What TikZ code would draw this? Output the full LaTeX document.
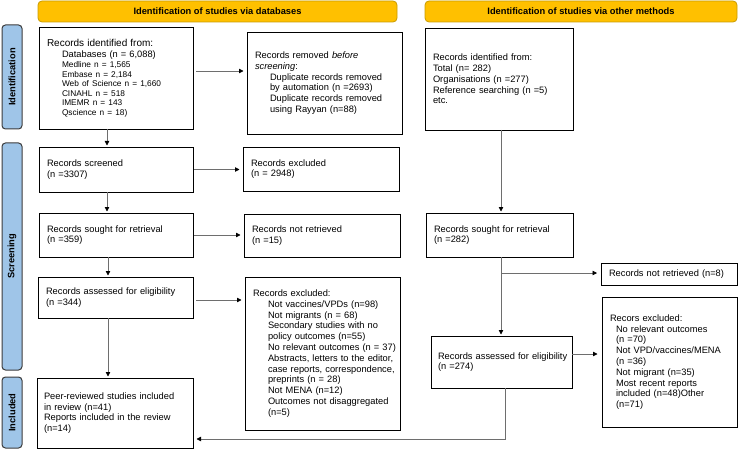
\documentclass[tikz,border=0pt]{standalone}
\usepackage{fontspec}
\setmainfont{Liberation Sans}
\usetikzlibrary{arrows.meta}
\hfuzz=100pt
\hbadness=10000
\definecolor{bannerfill}{HTML}{FFC000}
\definecolor{bannerdraw}{HTML}{C89B00}
\definecolor{sidefill}{HTML}{9FC5E8}
\definecolor{sidedraw}{HTML}{3C3C3C}
\definecolor{linegray}{HTML}{6E6E6E}
\newcommand\fs{\fontsize{9.3}{10.8}\selectfont}
\newcommand\sm{\fontsize{8.3}{9.5}\selectfont}
\newcommand\ind[1]{\hspace*{15pt}\mbox{#1}}
\newcommand\indn[1]{\hspace*{6pt}\mbox{#1}}
\tikzset{
  box/.style={draw=black, line width=0.8pt, fill=white, inner ysep=2pt,
    align=left, font=\fs, anchor=north west, outer sep=0pt},
  banner/.style={draw=bannerdraw, fill=bannerfill, line width=0.8pt,
    rounded corners=4pt, font=\fontsize{9.3}{11}\selectfont\bfseries, inner sep=0pt},
  side/.style={draw=sidedraw, fill=sidefill, line width=1pt,
    rounded corners=3.5pt, font=\fontsize{9.3}{11}\selectfont\bfseries, inner sep=0pt},
  conn/.style={draw=linegray, line width=0.8pt,
    -{Triangle[length=4.5pt,width=4.5pt,color=black]}},
}
\newcommand\bx[7][8]{%
  \pgfmathsetmacro\bxw{#5-#3}%
  \pgfmathsetmacro\bxh{#6-#4}%
  \pgfmathsetmacro\bxt{#5-#3-2*#1}%
  \node[box, inner xsep=#1pt, minimum width=\bxw pt, minimum height=\bxh pt,
        text width=\bxt pt] (#2) at (#3,#4) {#7};}
\begin{document}
\begin{tikzpicture}[x=1pt,y=-1pt]
\useasboundingbox (0,0) rectangle (738,449);

% banners
\node[banner, minimum width=359pt, minimum height=21pt] (banL) at (217.5,11.5) {Identification of studies via databases};
\node[banner, minimum width=312pt, minimum height=21pt] (banR) at (581,11.5) {Identification of studies via other methods};

% side labels
\node[side, rotate=90, minimum width=104pt, minimum height=20pt] (sideI) at (12,77) {Identification};
\node[side, rotate=90, minimum width=227pt, minimum height=20pt] (sideS) at (12,256.5) {Screening};
\node[side, rotate=90, minimum width=71pt, minimum height=20pt] (sideN) at (12,412.5) {Included};

% boxes
\bx{A}{39}{27}{193}{129}{{\fontsize{10}{11}\selectfont Records identified from:}\\[0.9pt]
\ind{Databases (n = 6,088)}\\[-0.8pt]
\ind{\sm Medline n = 1,565}\\[-1.3pt]
\ind{\sm Embase n = 2,184}\\[-1.3pt]
\ind{\sm Web of Science n = 1,660}\\[-1.3pt]
\ind{\sm CINAHL n = 518}\\[-1.3pt]
\ind{\sm IMEMR n = 143}\\[-1.3pt]
\ind{\sm Qscience n = 18)}}

\bx{B}{247}{32}{402}{134}{Records removed \textit{before}\\
\textit{screening}:\\
\ind{Duplicate records removed}\\
\ind{by automation (n =2693)}\\
\ind{Duplicate records removed}\\
\ind{using Rayyan (n=88)}}

\bx{C}{425}{28}{573}{130}{Records identified from:\\
Total (n= 282)\\
Organisations (n =277)\\
Reference searching (n =5)\\
etc.}

\bx{D}{39}{147}{193}{192}{Records screened\\(n =3307)}
\bx{E}{243}{147}{399}{191}{Records excluded\\(n = 2948)}
\bx{F}{39}{213}{193}{257}{Records sought for retrieval\\(n =359)}
\bx{G}{244}{214}{400}{257}{Records not retrieved\\(n =15)}
\bx{H}{426}{213}{573}{257}{Records sought for retrieval\\(n =282)}
\bx{I}{601}{263}{737}{285}{\mbox{Records not retrieved (n=8)}}
\bx{J}{38}{277}{193}{318}{\mbox{Records assessed for eligibility}\\(n =344)}

\bx{K}{245}{277}{400}{430}{Records excluded:\\
\ind{Not vaccines/VPDs (n=98)}\\
\ind{Not migrants (n = 68)}\\
\ind{Secondary studies with no}\\
\ind{policy outcomes (n=55)}\\
\ind{No relevant outcomes (n = 37)}\\
\ind{Abstracts, letters to the editor,}\\
\ind{case reports, correspondence,}\\
\ind{preprints (n = 28)}\\
\ind{Not MENA (n=12)}\\
\ind{Outcomes not disaggregated}\\
\ind{(n=5)}}

\bx[7]{L}{37}{378}{193}{448}{\mbox{Peer-reviewed studies included}\\
in review (n=41)\\
\mbox{Reports included in the review}\\
(n=14)}

\bx[7]{M}{431}{336}{572}{388}{\mbox{Records assessed for eligibility}\\(n =274)}

\bx{N}{602}{297}{737}{427}{Recors excluded:\\
\indn{No relevant outcomes}\\
\indn{(n =70)}\\
\indn{Not VPD/vaccines/MENA}\\
\indn{(n =36)}\\
\indn{Not migrant (n=35)}\\
\indn{Most recent reports}\\
\indn{included (n=48)Other}\\
\indn{(n=71)}}

% helper coordinates
\coordinate (xl) at (107,0);
\coordinate (xl2) at (108,0);
\coordinate (xr) at (501,0);
\coordinate (y1) at (0,71);
\coordinate (y7) at (0,300);
\coordinate (y11) at (0,354);
\coordinate (br) at (501,273);
\coordinate (mb) at (505,439);

% connectors
\draw[conn, shorten >=1.5pt] (A.south -| xl) -- (D.north -| xl);
\draw[conn, shorten <=3pt, shorten >=3.5pt] (A.east |- y1) -- (B.west |- y1);
\draw[conn, shorten <=1pt, shorten >=3.5pt] (D.east) -- (E.west |- D.east);
\draw[conn, shorten >=1.5pt] (D.south -| xl) -- (F.north -| xl);
\draw[conn, shorten <=1pt, shorten >=3.5pt] (F.east) -- (G.west |- F.east);
\draw[conn, shorten >=1.5pt] (F.south -| xl2) -- (J.north -| xl2);
\draw[conn, shorten <=3pt, shorten >=3.5pt] (J.east |- y7) -- (K.west |- y7);
\draw[conn, shorten >=1.5pt] (J.south -| xl2) -- (L.north -| xl2);
\draw[conn, shorten >=1.5pt] (C.south -| xr) -- (H.north -| xr);
\draw[conn, shorten >=1.5pt] (H.south -| xr) -- (M.north -| xr);
\draw[conn, shorten >=4pt] (br) -- (I.west |- br);
\draw[conn, shorten >=4.5pt] (M.east |- y11) -- (N.west |- y11);
\draw[conn, shorten >=3.5pt] (M.south -| mb) |- (L.east |- mb);
\end{tikzpicture}
\end{document}
